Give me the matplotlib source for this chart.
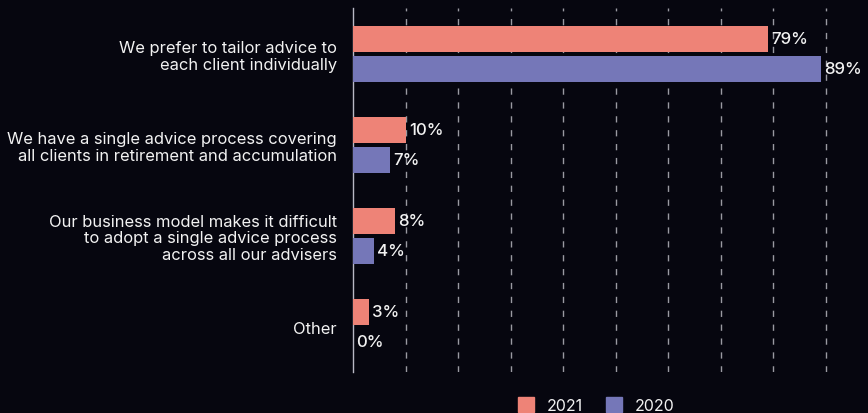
import matplotlib
matplotlib.use("Agg")
import matplotlib.pyplot as plt
import numpy as np
from matplotlib.patches import Patch

plt.rcParams['font.family'] = ['Inter', 'DejaVu Sans']

# ====== data ======
categories = [
    "We prefer to tailor advice to\neach client individually",
    "We have a single advice process covering\nall clients in retirement and accumulation",
    "Our business model makes it difficult\nto adopt a single advice process\nacross all our advisers",
    "Other",
]
values_2021 = [79, 10, 8, 3]
values_2020 = [89, 7, 4, 0]
series_names = ["2021", "2020"]

bg = "#06060f"
red = "#ee8377"
blue = "#7577b8"
text_color = "#f2f2f2"

fig = plt.figure(figsize=(8.68, 4.14), dpi=100, facecolor=bg)
ax = fig.add_axes([0.4067, 0.099, 0.5933, 0.879])
ax.set_facecolor(bg)

y = np.arange(len(categories))
h = 0.286
off = 0.165

bars_a = ax.barh(y - off, values_2021, height=h, color=red, zorder=3)
bars_b = ax.barh(y + off, values_2020, height=h, color=blue, zorder=3)

for bars, vals in ((bars_a, values_2021), (bars_b, values_2020)):
    for b, v in zip(bars, vals):
        ax.text(v + 0.6, b.get_y() + b.get_height() / 2, f"{v}%",
                va="center", ha="left", color=text_color, fontsize=12.2,
                fontweight="medium", zorder=4)

ax.set_xlim(0, 98)
ax.set_ylim(len(categories) - 0.5, -0.5)

# dashed gridlines every 10%
for gx in range(10, 100, 10):
    ax.axvline(gx, color="#9a9aa2", linewidth=1, linestyle=(0, (4.5, 5.5)), zorder=1)

ax.set_yticks(y)
ax.set_yticklabels(categories, color=text_color, fontsize=11.9, linespacing=1.15)
ax.tick_params(axis="y", length=0, pad=11.5)
ax.set_xticks([])
for side in ["top", "right", "bottom"]:
    ax.spines[side].set_visible(False)
ax.spines["left"].set_color("#b8b8c4")
ax.spines["left"].set_linewidth(1)

handles = [Patch(color=red, label=series_names[0]),
           Patch(color=blue, label=series_names[1])]
leg = fig.legend(handles=handles, loc="lower center", bbox_to_anchor=(0.687, -0.035),
                 ncol=2, frameon=False, fontsize=11.5, handlelength=1.0,
                 handleheight=1.0, handletextpad=0.8, columnspacing=1.5)
for t in leg.get_texts():
    t.set_color(text_color)

fig.savefig("out.png", dpi=100, facecolor=bg)
